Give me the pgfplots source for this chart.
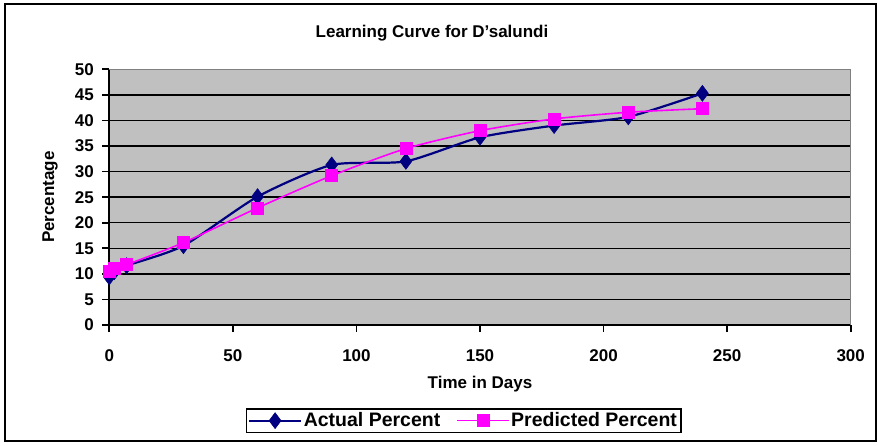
\documentclass[border=0pt]{standalone}
\usepackage{pgfplots}
\pgfplotsset{compat=1.18}
\usepackage{fontspec}
\setmainfont{Liberation Sans}
\definecolor{navyc}{RGB}{0,0,128}
\definecolor{magc}{RGB}{255,0,255}
\definecolor{plotgray}{RGB}{192,192,192}
\definecolor{bordergray}{RGB}{128,128,128}
\begin{document}
\begin{tikzpicture}
\path[use as bounding box] (0,0) rectangle (878pt,445pt);
\draw[line width=1.5pt,black] (5pt,4pt) rectangle (876pt,441pt);
\begin{axis}[
  at={(109.3pt,120pt)}, anchor=south west,
  scale only axis, width=741.4pt, height=255.7pt,
  xmin=0, xmax=300, ymin=0, ymax=50,
  xtick={0,50,...,300}, ytick={0,5,...,50},
  axis lines*=left,
  axis background/.style={fill=plotgray},
  axis line style={black, line width=2pt},
  ymajorgrids, grid style={black, line width=1.4pt},
  major tick style={black, line width=1.8pt},
  tick align=outside, major tick length=7pt,
  /pgf/number format/assume math mode=true,
  ticklabel style={font=\fontsize{17}{19}\selectfont\bfseries},
  xticklabel style={yshift=-14pt},
  yticklabel style={xshift=-5pt},
  xlabel={Time in Days}, ylabel={Percentage},
  label style={font=\fontsize{17}{19}\selectfont\bfseries},
  xlabel style={at={(axis description cs:0.5,0)}, anchor=center, yshift=-59pt},
  ylabel style={at={(axis description cs:-0.080,0.5)}, anchor=center},
  clip=false,
  legend columns=2,
  legend style={at={(0.478,-0.374)}, anchor=center, draw=black, line width=1.4pt,
    font=\fontsize{19.5}{22}\selectfont\bfseries, inner sep=2pt,
    /tikz/every even column/.append style={column sep=14pt}},
  legend image code/.code={\draw[mark repeat=2,mark phase=2] plot coordinates {(0cm,0cm)(0.9cm,0cm)(1.8cm,0cm)};},
]
\draw[bordergray, line width=1.2pt] (axis cs:0,50) -- (axis cs:300,50) -- (axis cs:300,0);
\pgfplotsinvokeforeach{0,50,100,150,200,250,300}{
  \draw[black, line width=1.8pt] (axis cs:#1,0) -- ++(0pt,-7pt);
}
\pgfplotsinvokeforeach{0,5,10,15,20,25,30,35,40,45,50}{
  \draw[black, line width=1.8pt] (axis cs:0,#1) -- ++(-7pt,0pt);
}
\addplot[navyc, line width=2.2pt, smooth, tension=0.4, mark=diamond*, mark size=8pt, mark options={fill=navyc, draw=navyc, line width=0.5pt}]
coordinates {(0,9.4)(2,10.4)(7,11.6)(30,15.5)(60,25.1)(90,31.3)(120,32.0)(150,36.7)(180,39.0)(210,40.7)(240,45.3)};
\addlegendentry{Actual Percent}
\addplot[magc, line width=1.6pt, smooth, tension=0.4, mark=square*, mark size=6pt, mark options={fill=magc, draw=magc, line width=0.5pt}]
coordinates {(0,10.6)(2,11.1)(7,11.8)(30,16.1)(60,22.9)(90,29.2)(120,34.5)(150,38.0)(180,40.3)(210,41.6)(240,42.3)};
\addlegendentry{Predicted Percent}
\end{axis}
\node[font=\fontsize{17}{19}\selectfont\bfseries] at (432pt,412pt) {Learning Curve for D'salundi};
\end{tikzpicture}
\end{document}
